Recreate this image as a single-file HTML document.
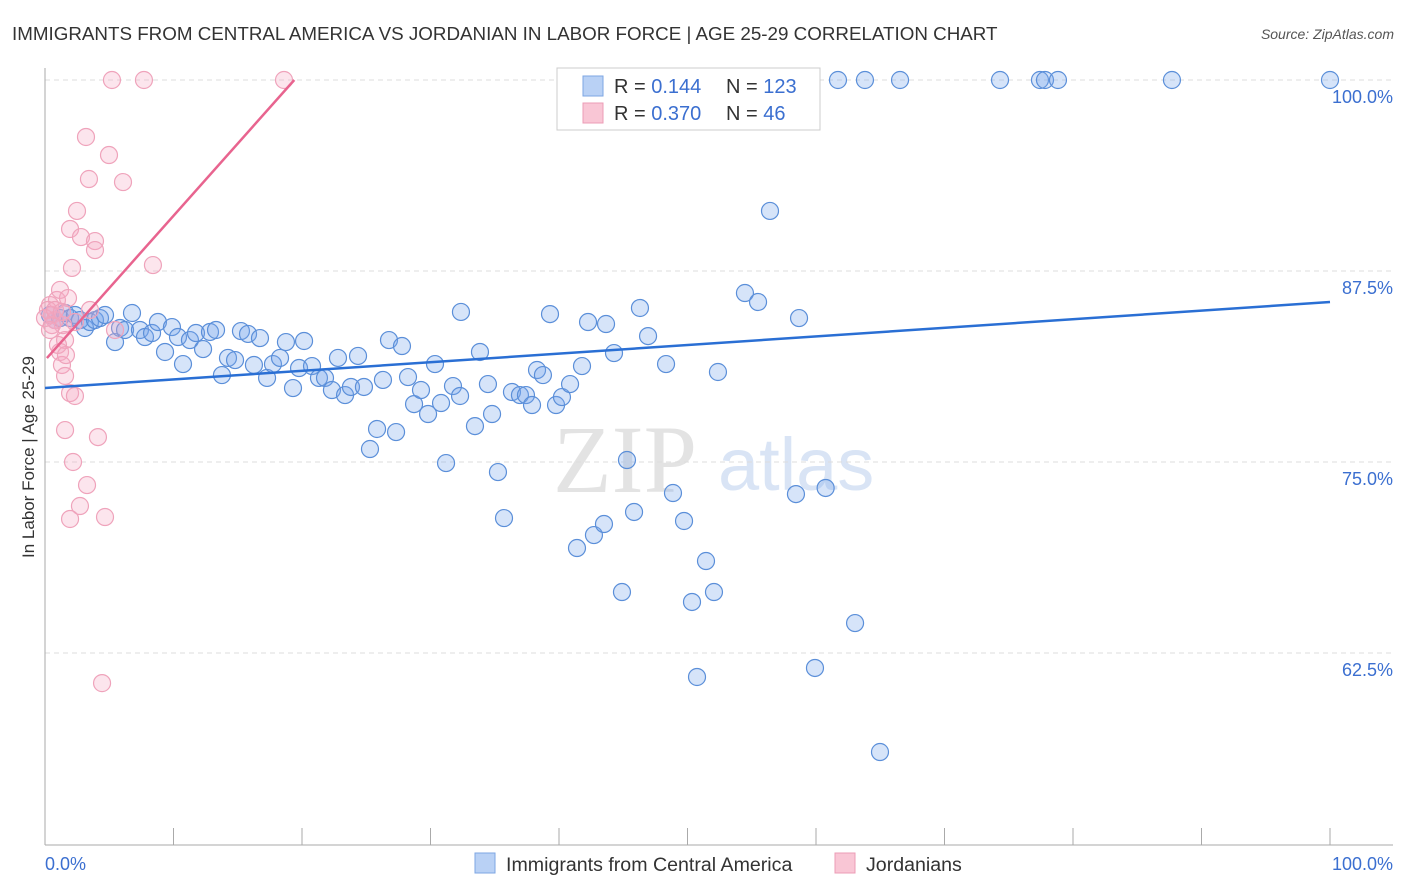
<!DOCTYPE html>
<html><head><meta charset="utf-8"><style>
body{margin:0;background:#fff;font-family:"Liberation Sans",sans-serif;}
svg{display:block}
</style></head><body>
<svg id="chart" width="1406" height="892" xmlns="http://www.w3.org/2000/svg">
<text x="12" y="40" font-size="18.8" fill="#333">IMMIGRANTS FROM CENTRAL AMERICA VS JORDANIAN IN LABOR FORCE | AGE 25-29 CORRELATION CHART</text>
<text x="1394" y="39" font-size="14" font-style="italic" fill="#555" text-anchor="end">Source: ZipAtlas.com</text>
<g>
<text x="553" y="492" font-size="96" font-family="Liberation Serif" fill="#ddd" opacity="0.8">ZIP</text>
<text x="718" y="490" font-size="74" fill="#c9daf2" opacity="0.7">atlas</text>
</g>
<g id="grid"></g>
<g id="axes"></g>
<g id="marks"></g>
<text transform="translate(34,457) rotate(-90)" font-size="17" fill="#333" text-anchor="middle">In Labor Force | Age 25-29</text>
<g>
<rect x="557" y="68" width="263" height="62" fill="#fff" stroke="#ccc"/>
<rect x="583" y="76" width="20" height="20" fill="#b9d1f5" stroke="#7da6e3"/>
<rect x="583" y="103" width="20" height="20" fill="#f9c6d5" stroke="#ec9cb6"/>
<text x="614" y="93" font-size="20" fill="#333">R = <tspan fill="#3b6fd0"> 0.144</tspan></text>
<text x="726" y="93" font-size="20" fill="#333">N = <tspan fill="#3b6fd0">123</tspan></text>
<text x="614" y="120" font-size="20" fill="#333">R = <tspan fill="#3b6fd0">0.370</tspan></text>
<text x="726" y="120" font-size="20" fill="#333">N = <tspan fill="#3b6fd0"> 46</tspan></text>
</g>
<g>
<rect x="475" y="853" width="20" height="20" fill="#b9d1f5" stroke="#7da6e3"/>
<text x="506" y="871" font-size="19.6" fill="#333">Immigrants from Central America</text>
<rect x="835" y="853" width="20" height="20" fill="#f9c6d5" stroke="#ec9cb6"/>
<text x="866" y="871" font-size="19.6" fill="#333">Jordanians</text>
</g>
</svg>
<script>
const blueX=[0.39,0.78,1.17,1.56,1.95,2.33,2.72,3.11,3.50,3.89,4.28,4.67,5.45,5.84,6.23,6.77,7.39,7.78,8.33,8.79,9.34,9.88,10.35,10.74,11.28,11.75,12.30,12.84,13.31,13.77,14.24,14.79,15.25,15.80,16.26,16.73,17.28,17.74,18.29,18.75,19.30,19.77,20.16,20.78,21.32,21.79,22.33,22.80,23.35,23.81,24.36,24.82,25.29,25.84,26.30,26.77,27.32,27.78,28.25,28.72,29.26,29.81,30.35,30.82,31.21,31.75,32.30,32.37,33.46,33.85,34.47,34.79,35.25,35.72,36.34,36.96,37.43,37.90,38.29,38.75,39.30,39.77,40.23,40.86,41.40,41.79,42.26,42.72,43.50,43.66,44.28,44.90,45.29,45.84,46.30,46.93,48.33,48.87,49.73,50.35,50.74,51.44,52.06,52.37,54.47,55.49,56.42,58.44,58.68,59.92,60.75,63.04,64.98,53.46,55.64,57.98,61.71,63.81,66.54,74.32,77.43,77.82,78.83,87.70,100,42.41,51.91,53.93];
const blueY=[84.62,84.29,84.42,84.75,84.42,84.62,84.29,83.77,84.16,84.29,84.42,84.62,82.85,83.77,83.64,84.75,83.64,83.18,83.44,84.16,82.20,83.83,83.18,81.41,82.98,83.44,82.39,83.51,83.64,80.69,81.81,81.67,83.57,83.38,81.35,83.11,80.50,81.41,81.81,82.85,79.84,81.15,82.92,81.28,80.50,80.50,79.71,81.81,79.38,79.91,81.94,79.91,75.85,77.16,80.37,82.98,76.96,82.59,80.56,78.79,79.71,78.14,81.41,78.86,74.93,79.97,79.32,84.82,77.35,82.20,80.10,78.14,74.34,71.33,79.58,79.38,79.38,78.73,81.02,80.69,84.68,78.73,79.25,80.10,69.37,81.28,84.16,70.22,70.94,84.03,82.13,66.49,75.13,71.73,85.08,83.24,81.41,72.97,71.14,65.84,60.93,68.52,66.49,80.89,86.06,85.47,91.43,72.90,84.42,61.52,73.30,64.46,56.02,100,100,100,100,100,100,100,100,100,100,100,100,100,100,100];
const pinkX=[0.39,0.54,0.78,0.93,1.17,1.40,1.56,1.79,1.17,1.32,1.56,1.95,2.33,1.56,2.18,3.27,2.72,1.95,4.67,4.12,4.44,5.21,7.70,18.60,3.19,4.98,6.07,3.42,2.49,1.95,2.80,3.89,3.89,2.10,8.40,3.50,5.45,0.23,0.54,1.01,1.63,0.0,0.39,0.78,1.32,2.33];
const pinkY=[85.27,84.62,84.29,85.60,86.26,83.96,82.98,85.73,82.20,81.35,80.63,79.51,79.32,77.09,75.00,73.49,72.12,71.27,71.40,76.63,60.53,100,100,100,96.27,95.09,93.32,93.52,91.43,90.25,89.72,89.46,88.87,87.70,87.89,84.95,83.64,84.95,83.96,82.66,82.00,84.42,83.64,84.95,84.82,84.16];
const blueTrend=[[0,79.84],[100,85.47]];
const pinkTrend=[[0.15,81.8],[19.4,100]];
const yTicks=[100,87.5,75,62.5];
const yTickLabels=["100.0%","87.5%","75.0%","62.5%"];
const xTickVals=[0,10,20,30,40,50,60,70,80,90,100];

const NS="http://www.w3.org/2000/svg";
const X=v=>45+v*12.85;
const Y=v=>80+(100-v)/12.5*191;
function mk(tag,attrs,parent){const e=document.createElementNS(NS,tag);for(const k in attrs)e.setAttribute(k,attrs[k]);parent.appendChild(e);return e;}
const grid=document.getElementById('grid'),axes=document.getElementById('axes'),marks=document.getElementById('marks');
yTicks.forEach((t,i)=>{
 const l=mk('line',{x1:45,x2:1393,y1:Y(t),y2:Y(t),stroke:'#ddd','stroke-dasharray':'5,4'},grid);
 
 
 const tx=mk('text',{x:1393,y:Y(t)+23,'font-size':18,fill:'#3b6fd0','text-anchor':'end'},axes);
 tx.textContent=yTickLabels[i];
 
 
});
const ax=mk('line',{x1:45,x2:1393,y1:845,y2:845,stroke:'#aaa'},axes);


const ay=mk('line',{x1:45,x2:45,y1:68,y2:845,stroke:'#aaa'},axes);


xTickVals.forEach(t=>{
 const l=mk('line',{x1:X(t),x2:X(t),y1:828,y2:845,stroke:'#aaa'},axes);
 
 
});
const xl0=mk('text',{x:45,y:870,'font-size':18,fill:'#3b6fd0'},axes);xl0.textContent='0.0%';


const xl1=mk('text',{x:1393,y:870,'font-size':18,fill:'#3b6fd0','text-anchor':'end'},axes);xl1.textContent='100.0%';


blueX.forEach((x,i)=>{
 const c=mk('circle',{cx:X(x),cy:Y(blueY[i]),r:8.5,fill:'rgba(120,165,235,0.3)',stroke:'#5b8fd9','stroke-width':1.2},marks);
 
 
});
pinkX.forEach((x,i)=>{
 const c=mk('circle',{cx:X(x),cy:Y(pinkY[i]),r:8.5,fill:'rgba(245,170,195,0.3)',stroke:'#efa3bb','stroke-width':1.2},marks);
 
 
});
const bt=mk('line',{x1:X(blueTrend[0][0]),y1:Y(blueTrend[0][1]),x2:X(blueTrend[1][0]),y2:Y(blueTrend[1][1]),stroke:'#2a6fd4','stroke-width':2.5},marks);


const pt=mk('line',{x1:X(pinkTrend[0][0]),y1:Y(pinkTrend[0][1]),x2:X(pinkTrend[1][0]),y2:Y(pinkTrend[1][1]),stroke:'#e8648f','stroke-width':2.5},marks);


</script>
</body></html>
